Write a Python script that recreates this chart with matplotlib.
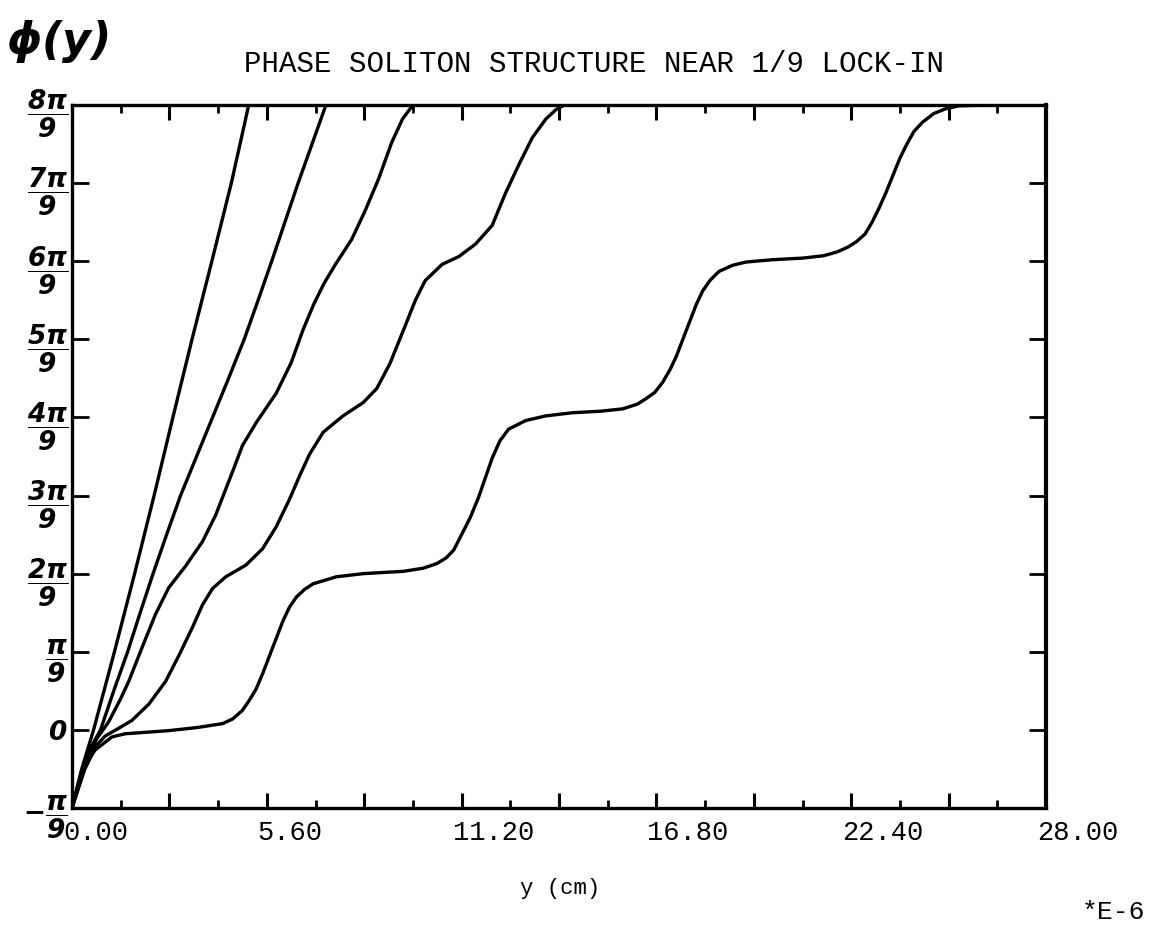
import numpy as np
import matplotlib
matplotlib.use('Agg')
import matplotlib.pyplot as plt
from matplotlib.ticker import MultipleLocator, FuncFormatter
from matplotlib.transforms import ScaledTranslation

# y in units of 1e-6 cm, phase in units of pi/9
y_1 = [0, 0.28, 0.62, 1.22, 1.80, 2.36, 2.90, 3.45, 4.02, 4.58, 5.08]
phi_1 = [-1, -0.5, 0, 1, 2, 3, 4, 5, 6, 7, 8]

y_2 = [0, 0.31, 0.55, 0.82, 1.20, 1.60, 1.96, 2.33, 2.72, 3.12, 3.58, 4.04,
       4.50, 4.95, 5.35, 5.74, 6.12, 6.50, 6.90, 7.30]
phi_2 = [-1, -0.5, -0.22, 0, 0.5, 1.0, 1.5, 2.0, 2.5, 3.0, 3.5, 4.0,
         4.5, 5.0, 5.5, 6.0, 6.5, 7.0, 7.5, 8.0]

y_3 = [0, 0.34, 0.70, 1.05, 1.40, 1.63, 2.01, 2.40, 2.78, 3.27, 3.75, 4.13,
       4.61, 4.90, 5.29, 5.87, 6.30, 6.64, 6.95, 7.25, 7.56, 8.04, 8.42, 8.81,
       9.19, 9.50, 9.80]
phi_3 = [-1, -0.5, -0.12, 0.10, 0.40, 0.62, 1.05, 1.48, 1.82, 2.10, 2.41, 2.75,
         3.30, 3.64, 3.93, 4.31, 4.70, 5.12, 5.45, 5.72, 5.95, 6.28, 6.64, 7.05,
         7.52, 7.82, 8.0]

y_4 = [0, 0.37, 0.70, 0.95, 1.34, 1.72, 2.21, 2.69, 3.07, 3.46, 3.75, 4.04,
       4.42, 5.00, 5.48, 5.87, 6.25, 6.54, 6.83, 7.22, 7.79, 8.37, 8.76, 9.14,
       9.53, 9.87, 10.15, 10.64, 11.12, 11.60, 12.08, 12.46, 12.85, 13.23,
       13.62, 13.91, 14.15]
phi_4 = [-1, -0.5, -0.20, -0.08, 0.02, 0.12, 0.33, 0.62, 0.95, 1.31, 1.60, 1.81,
         1.96, 2.11, 2.32, 2.60, 2.95, 3.25, 3.53, 3.81, 4.02, 4.19, 4.37, 4.69,
         5.12, 5.50, 5.75, 5.96, 6.06, 6.22, 6.46, 6.87, 7.24, 7.58,
         7.82, 7.94, 8.0]

y_5 = [0, 0.28, 0.66, 1.15, 1.53, 2.78, 3.60, 4.33, 4.62, 4.90, 5.10, 5.29,
       5.48, 5.67, 5.87, 6.06, 6.25, 6.45, 6.69, 6.93, 7.60, 8.37, 9.53, 10.10,
       10.49, 10.75, 10.97, 11.20, 11.45, 11.69, 11.90, 12.08, 12.30, 12.55,
       13.04, 13.62, 14.38, 15.20, 15.83, 16.25, 16.50, 16.75, 16.98, 17.20,
       17.37, 17.56, 17.75, 17.95, 18.13, 18.35, 18.60, 19.00, 19.38, 20.15,
       21.00, 21.60, 22.00, 22.30, 22.55, 22.80, 23.00, 23.20, 23.40, 23.60,
       23.80, 24.00, 24.20, 24.45, 24.77, 25.10, 25.50, 26.50, 28.00]
phi_5 = [-1, -0.52, -0.26, -0.09, -0.05, -0.01, 0.03, 0.08, 0.14, 0.25, 0.38, 0.52,
         0.72, 0.94, 1.17, 1.39, 1.57, 1.70, 1.80, 1.87, 1.96, 2.00, 2.03, 2.07,
         2.13, 2.20, 2.30, 2.50, 2.72, 2.98, 3.25, 3.48, 3.70, 3.85,
         3.96, 4.02, 4.06, 4.08, 4.11, 4.17, 4.24, 4.32, 4.45, 4.62,
         4.78, 5.00, 5.22, 5.45, 5.62, 5.76, 5.87, 5.95, 5.99, 6.02,
         6.04, 6.07, 6.12, 6.18, 6.25, 6.35, 6.50, 6.68, 6.88, 7.10,
         7.32, 7.50, 7.66, 7.78, 7.89, 7.95, 7.99, 8.0, 8.0]

ytick_labels = [r'$-\dfrac{\pi}{9}$', r'$0$', r'$\dfrac{\pi}{9}$', r'$\dfrac{2\pi}{9}$',
                r'$\dfrac{3\pi}{9}$', r'$\dfrac{4\pi}{9}$', r'$\dfrac{5\pi}{9}$',
                r'$\dfrac{6\pi}{9}$', r'$\dfrac{7\pi}{9}$', r'$\dfrac{8\pi}{9}$']

plt.rcParams['mathtext.fontset'] = 'custom'
plt.rcParams['mathtext.rm'] = 'DejaVu Sans:italic:bold'
plt.rcParams['mathtext.it'] = 'DejaVu Sans:italic:bold'
plt.rcParams['mathtext.bf'] = 'DejaVu Sans:italic:bold'
mono = 'Liberation Mono'

fig = plt.figure(figsize=(11.52, 9.27), dpi=100)
ax = fig.add_axes([0.0625, 0.1284, 0.8455, 0.7583])

for ys, ps in [(y_1, phi_1), (y_2, phi_2), (y_3, phi_3), (y_4, phi_4), (y_5, phi_5)]:
    ax.plot(ys, np.array(ps) * np.pi / 9, color='black', lw=2.4,
            solid_capstyle='round', solid_joinstyle='round')

ax.set_xlim(0, 28)
ax.set_ylim(-np.pi / 9, 8 * np.pi / 9)

for s in ax.spines.values():
    s.set_linewidth(2.4)
ax.spines['right'].set_linewidth(3.0)

# x ticks: label every 5.6, medium tick every 2.8, small every 1.4
ax.xaxis.set_major_locator(MultipleLocator(2.8))
ax.xaxis.set_minor_locator(MultipleLocator(1.4))
ax.xaxis.set_major_formatter(FuncFormatter(
    lambda v, pos: '%.2f' % v if abs(v / 5.6 - round(v / 5.6)) < 1e-6 else ''))
ax.set_yticks(np.arange(-1, 9) * np.pi / 9, ytick_labels)

ax.tick_params(axis='both', which='both', direction='in', top=True, right=True)
ax.tick_params(axis='x', which='major', length=11, width=2.2, pad=9,
               labelsize=19.5, labelfontfamily=mono)
ax.tick_params(axis='x', which='minor', length=6, width=2.0)
ax.tick_params(axis='y', which='major', length=12, width=2.0, pad=3, labelsize=19)

# numbers start at the tick rather than centring on it
shift = ScaledTranslation(-0.09, 0, fig.dpi_scale_trans)
for lbl in ax.get_xticklabels():
    lbl.set_ha('left')
    lbl.set_transform(lbl.get_transform() + shift)

ax.set_title('PHASE SOLITON STRUCTURE NEAR 1/9 LOCK-IN', family=mono, fontsize=21,
             x=0.536, y=1.047, va='center')
ax.set_xlabel('y (cm)', family=mono, fontsize=16)
ax.xaxis.set_label_coords(0.501, -0.114)
ax.xaxis.label.set_va('center')

fig.text(0.050, 0.955, r'$\phi(y)$', fontsize=32, ha='center', va='center')
fig.text(0.994, 0.0162, '*E-6', family=mono, fontsize=19, ha='right', va='center')

fig.savefig('out.png', dpi=100, facecolor='white')
